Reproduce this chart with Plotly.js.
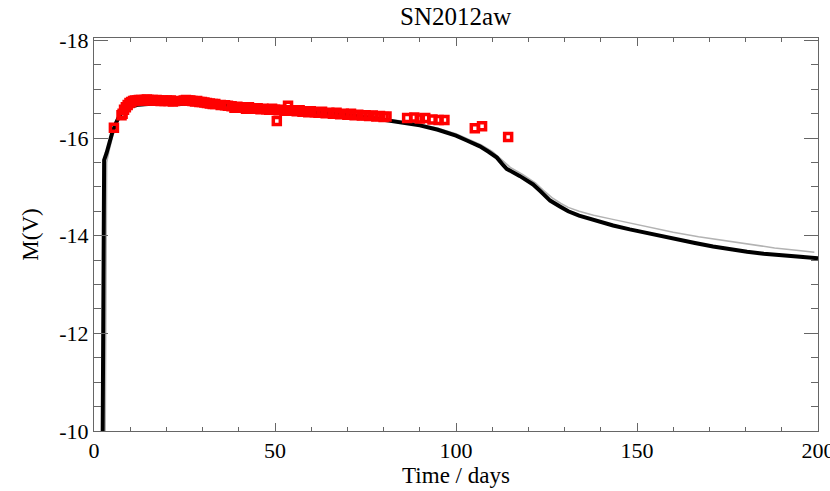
<!DOCTYPE html>
<html>
<head>
<meta charset="utf-8">
<script src="https://cdn.plot.ly/plotly-3.0.1.min.js"></script>
<style>html,body{margin:0;padding:0;background:#fff;}#chart{width:830px;height:491px;}</style>
</head>
<body>
<div id="chart"></div>
<script>
// Model light curve (thick black)
const modelDays = [2.4,2.5,2.6,2.7,2.8,3.5,4.2,5.0,6.0,7.0,8.0,9.0,10,12,15,20,25,30,35,40,45,50,55,60,65,70,75,80,85,90,95,100,103,106.6,109,111.3,113,114,117.7,121.3,123.2,126,128.7,131,134,138,143.4,148,152.8,157,161.9,166,171,175,180.4,185,189.5,194,198.6,200];
const modelMag = [-10.0,-12.0,-14.0,-15.0,-15.55,-15.7,-15.9,-16.1,-16.3,-16.45,-16.55,-16.6,-16.64,-16.68,-16.7,-16.71,-16.71,-16.7,-16.69,-16.67,-16.64,-16.61,-16.58,-16.55,-16.51,-16.47,-16.43,-16.38,-16.32,-16.26,-16.17,-16.05,-15.95,-15.83,-15.72,-15.6,-15.45,-15.37,-15.22,-15.05,-14.92,-14.72,-14.6,-14.5,-14.41,-14.32,-14.21,-14.13,-14.05,-13.98,-13.91,-13.85,-13.78,-13.73,-13.67,-13.63,-13.6,-13.57,-13.55,-13.54];

// Alternative model (thin grey)
const altDays = [3.1,3.2,3.3,3.4,3.5,4.2,5.2,6.2,7.2,8.2,9.5,11,15,20,30,40,50,60,70,80,85,90,95,100,103,107,110,112,114,115,118.5,122,124,126.5,129,131,134,138,143,148,153,160,167,174,181,188,194,199];
const altMag = [-10.0,-12.0,-14.0,-15.0,-15.5,-15.75,-16.05,-16.28,-16.43,-16.53,-16.6,-16.64,-16.68,-16.7,-16.7,-16.67,-16.62,-16.56,-16.49,-16.4,-16.35,-16.29,-16.2,-16.09,-15.99,-15.86,-15.73,-15.6,-15.45,-15.4,-15.25,-15.08,-14.94,-14.78,-14.66,-14.58,-14.5,-14.42,-14.34,-14.26,-14.17,-14.07,-13.98,-13.9,-13.82,-13.75,-13.7,-13.66];

// Observations (red open squares)
const obsDays = [5.5,7.6,7.9,8.3,8.8,9.3,9.8,10.3,10.8,11.3,11.9,12.4,13.0,13.5,14.0,14.6,15.1,15.7,16.2,16.8,17.3,17.9,18.4,19.0,19.5,20.1,20.6,21.2,21.8,22.4,
24.8,25.4,26.0,26.6,27.2,27.9,28.5,29.1,29.8,30.5,31.2,32.0,32.8,33.5,35.0,
36.2,37.0,38.0,38.8,39.6,40.5,41.3,42.0,42.8,43.6,44.4,45.2,46.0,46.8,47.6,48.4,49.2,50.0,50.5,51.0,51.8,52.6,53.6,54.4,55.2,56.0,56.8,57.6,58.4,59.2,60.0,61.0,62.0,63.0,64.0,65.0,66.0,67.0,68.0,69.0,70.0,71.0,72.0,73.0,74.0,75.0,76.0,77.0,78.0,79.0,80.0,80.8,
86.5,88.5,90.0,91.5,93.5,95.2,96.8,105.2,107.2,114.4];
const obsMag = [-16.21,-16.47,-16.5,-16.58,-16.63,-16.68,-16.72,-16.74,-16.76,-16.77,-16.77,-16.78,-16.78,-16.77,-16.78,-16.79,-16.78,-16.77,-16.78,-16.77,-16.78,-16.77,-16.76,-16.77,-16.76,-16.77,-16.76,-16.77,-16.75,-16.76,
-16.77,-16.78,-16.77,-16.77,-16.76,-16.75,-16.76,-16.74,-16.74,-16.73,-16.72,-16.71,-16.7,-16.7,-16.68,
-16.67,-16.66,-16.65,-16.62,-16.64,-16.63,-16.62,-16.6,-16.63,-16.61,-16.6,-16.61,-16.59,-16.6,-16.59,-16.58,-16.6,-16.58,-16.35,-16.57,-16.58,-16.56,-16.66,-16.57,-16.56,-16.55,-16.57,-16.54,-16.55,-16.53,-16.55,-16.53,-16.52,-16.54,-16.51,-16.52,-16.5,-16.52,-16.49,-16.5,-16.48,-16.5,-16.47,-16.48,-16.46,-16.47,-16.45,-16.46,-16.44,-16.45,-16.43,-16.44,
-16.41,-16.42,-16.4,-16.41,-16.38,-16.37,-16.37,-16.2,-16.24,-16.02];

const titleText = 'SN2012aw';
const xTitle = 'Time / days';
const yTitle = 'M(V)';
const xTicks = [0,50,100,150,200];
const yTicks = [-18,-16,-14,-12,-10];

const FONT = 'Liberation Serif';

const traces = [
  {x: altDays, y: altMag, type: 'scatter', mode: 'lines', line: {color: '#b3b3b3', width: 1.5}, hoverinfo: 'skip'},
  {x: modelDays, y: modelMag, type: 'scatter', mode: 'lines', line: {color: '#000', width: 4}, hoverinfo: 'skip'},
  {x: obsDays, y: obsMag, type: 'scatter', mode: 'markers', marker: {symbol: 'square-open', size: 7, color: '#ff0000', line: {width: 3.5, color: '#ff0000'}}, hoverinfo: 'skip'}
];

const axisCommon = {
  showgrid: false, zeroline: false, showline: true, linecolor: '#666', linewidth: 1,
  mirror: 'allticks', ticks: 'inside', tickcolor: '#666', tickwidth: 1,
  ticklabeloverflow: 'allow',
  tickfont: {family: FONT, size: 22, color: '#000'}
};

const layout = {
  width: 830, height: 491,
  margin: {l: 94, r: 12, t: 38, b: 60},
  paper_bgcolor: '#fff', plot_bgcolor: '#fff',
  showlegend: false,
  title: {text: titleText, font: {family: FONT, size: 25, color: '#000'}, x: 0.549, xanchor: 'center', y: 0.967, yanchor: 'middle'},
  xaxis: Object.assign({}, axisCommon, {
    range: [0, 200], tickvals: xTicks, ticktext: xTicks.map(String), ticklen: 8,
    minor: {dtick: 10, tick0: 0, ticks: 'inside', ticklen: 4, tickcolor: '#666'},
    title: {text: xTitle, font: {family: FONT, size: 23, color: '#000'}, standoff: 4}
  }),
  yaxis: Object.assign({}, axisCommon, {
    range: [-10, -18.05], tickvals: yTicks, ticktext: yTicks.map(String), ticklen: 14,
    minor: {dtick: 0.5, tick0: -10, ticks: 'inside', ticklen: 7, tickcolor: '#666'},
    title: {text: yTitle, font: {family: FONT, size: 23, color: '#000'}, standoff: 14}
  })
};

Plotly.newPlot('chart', traces, layout, {staticPlot: true, displayModeBar: false});
</script>
</body>
</html>
